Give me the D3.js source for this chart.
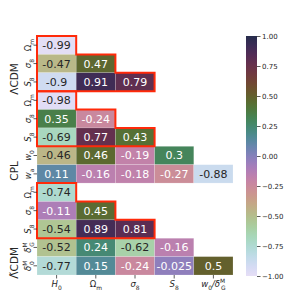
<!DOCTYPE html>
<html>
<head>
<meta charset="utf-8">
<script src="https://cdn.jsdelivr.net/npm/d3@7"></script>
<style>
  body { margin: 0; background: #fff; }
  text { font-family: "DejaVu Sans", sans-serif; }
</style>
</head>
<body>
<svg id="chart" width="299" height="298"></svg>
<script>
// column labels: [base, sub, sup]
var colLabels = [["H", "0"], ["Ω", "m"], ["σ", "8"], ["S", "8"], ["w", "0", null, "/δ", "G", "M"]];

// row labels, three model blocks
var rowLabels = [
  ["Ω", "m"], ["σ", "8"], ["S", "8"],
  ["Ω", "m"], ["σ", "8"], ["S", "8"], ["w", "0"], ["w", "a"],
  ["Ω", "m"], ["σ", "8"], ["S", "8"], ["δ", "G", "M"], ["δ", "0", "M"]
];

var groups = ["ΛCDM", "CPL", "Λ̃CDM"];
var groupLastRow = [2, 7, 12];
var boxedStart = [0, 3, 8]; // first row of the red outlined triangles

// correlation values per row (lower triangle only)
var corr = [
  [-0.99],
  [-0.47, 0.47],
  [-0.9, 0.91, 0.79],
  [-0.98],
  [0.35, -0.24],
  [-0.69, 0.77, 0.43],
  [-0.46, 0.46, -0.19, 0.3],
  [0.11, -0.16, -0.18, -0.27, -0.88],
  [-0.74],
  [-0.11, 0.45],
  [-0.54, 0.89, 0.81],
  [-0.52, 0.24, -0.62, -0.16],
  [-0.77, 0.15, -0.24, -0.025, 0.5]
];

var cbarTicks = [1, 0.75, 0.5, 0.25, 0, -0.25, -0.5, -0.75, -1];

var svg = d3.select("#chart");

// cubehelix colour map, dark at +1, light at -1
function cubehelix(t) {
  var dark = 0.18, light = 0.89, hue = 0.8;
  var x = dark + (light - dark) * t;
  var a = hue * x * (1 - x) / 2;
  var phi = (-12 + 745 * t) * Math.PI / 180;
  var c = Math.cos(phi), s = Math.sin(phi);
  var r = x + a * (-0.14861 * c + 1.78277 * s);
  var g = x + a * (-0.29227 * c - 0.90649 * s);
  var b = x + a * (1.97294 * c);
  var cl = function (v) { return Math.round(255 * Math.max(0, Math.min(1, v))); };
  return d3.rgb(cl(r), cl(g), cl(b));
}
var color = function (v) { return cubehelix((1 - v) / 2); };

function lum(c) {
  var f = function (v) { v /= 255; return v <= 0.03928 ? v / 12.92 : Math.pow((v + 0.055) / 1.055, 2.4); };
  return 0.2126 * f(c.r) + 0.7152 * f(c.g) + 0.0722 * f(c.b);
}

var x = d3.scaleBand().domain(d3.range(colLabels.length)).range([37, 233]);
var y = d3.scaleBand().domain(d3.range(rowLabels.length)).range([36, 275]);

// cells
var cells = [];
corr.forEach(function (row, i) {
  row.forEach(function (v, j) { cells.push({ i: i, j: j, v: v }); });
});

var cg = svg.append("g").selectAll("g").data(cells).enter().append("g");
cg.append("rect")
  .attr("x", d => x(d.j))
  .attr("y", d => y(d.i))
  .attr("width", x.bandwidth())
  .attr("height", y.bandwidth())
  .attr("fill", d => color(d.v))
  .attr("stroke", "rgba(255,255,255,0.35)")
  .attr("stroke-width", 0.5);
cg.append("text")
  .attr("x", d => x(d.j) + x.bandwidth() / 2)
  .attr("y", d => y(d.i) + y.bandwidth() / 2)
  .attr("dy", "0.36em")
  .attr("text-anchor", "middle")
  .attr("font-size", 11)
  .attr("fill", d => lum(color(d.v)) > 0.408 ? "#262626" : "#fff")
  .text(d => String(d.v));

// red outlines
var bw = x.bandwidth(), bh = y.bandwidth();
svg.append("g").selectAll("path").data(boxedStart).enter().append("path")
  .attr("d", function (r0) {
    var x0 = x(0), y0 = y(r0);
    return "M" + x0 + "," + y0 +
      "H" + (x0 + bw) + "V" + (y0 + bh) +
      "H" + (x0 + 2 * bw) + "V" + (y0 + 2 * bh) +
      "H" + (x0 + 3 * bw) + "V" + (y0 + 3 * bh) +
      "H" + x0 + "Z";
  })
  .attr("fill", "none")
  .attr("stroke", "#ff2a0a")
  .attr("stroke-width", 2);

function mathLabel(sel, lab, size) {
  sel.append("tspan").attr("font-style", (lab[0] === "Ω") ? "normal" : "italic").text(lab[0]);
  if (lab[2]) {
    sel.append("tspan").attr("font-size", size * 0.7).attr("dy", -size * 0.45).text(lab[2]);
    sel.append("tspan").attr("font-size", size * 0.7).attr("dx", -size * 0.5).attr("dy", size * 0.8).text(lab[1]);
    sel.append("tspan").attr("font-size", size * 0.01).attr("dy", -size * 0.35).text(" ");
  } else {
    sel.append("tspan").attr("font-size", size * 0.7).attr("dy", size * 0.3).text(lab[1]);
    sel.append("tspan").attr("font-size", size * 0.01).attr("dy", -size * 0.3).text(" ");
  }
  if (lab[3]) {
    sel.append("tspan").attr("font-style", "italic").text(lab[3]);
    sel.append("tspan").attr("font-size", size * 0.7).attr("dy", -size * 0.45).text(lab[5]);
    sel.append("tspan").attr("font-size", size * 0.7).attr("dx", -size * 0.5).attr("dy", size * 0.8).text(lab[4]);
  }
}

// y ticks and labels
var yl = svg.append("g");
rowLabels.forEach(function (lab, i) {
  var cy = y(i) + bh / 2;
  yl.append("line").attr("x1", 33.5).attr("x2", 37).attr("y1", cy).attr("y2", cy)
    .attr("stroke", "#333").attr("stroke-width", 0.8);
  var t = yl.append("text")
    .attr("transform", "translate(31," + cy + ") rotate(-90)")
    .attr("text-anchor", "middle")
    .attr("font-size", 8.5)
    .attr("fill", "#262626");
  mathLabel(t, lab, 8.5);
});

// group labels
groups.forEach(function (gname, k) {
  var cy = y(groupLastRow[k]) + bh / 2 - 3;
  svg.append("text")
    .attr("transform", "translate(18," + cy + ") rotate(-90)")
    .attr("text-anchor", "middle")
    .attr("font-size", 10.5)
    .attr("fill", "#262626")
    .text(gname);
});

// x ticks and labels
var xl = svg.append("g");
colLabels.forEach(function (lab, j) {
  var cx = x(j) + bw / 2;
  xl.append("line").attr("x1", cx).attr("x2", cx).attr("y1", 275).attr("y2", 278.5)
    .attr("stroke", "#333").attr("stroke-width", 0.8);
  var t = xl.append("text")
    .attr("x", cx).attr("y", 287)
    .attr("text-anchor", "middle")
    .attr("font-size", 8.5)
    .attr("fill", "#262626");
  mathLabel(t, lab, 8.5);
});

// colourbar
var cb = d3.scaleLinear().domain([-1, 1]).range([276, 36]);
var defs = svg.append("defs");
var grad = defs.append("linearGradient").attr("id", "cbg")
  .attr("x1", 0).attr("y1", 1).attr("x2", 0).attr("y2", 0);
grad.selectAll("stop").data(d3.range(0, 1.0001, 0.02)).enter().append("stop")
  .attr("offset", d => d)
  .attr("stop-color", d => color(-1 + 2 * d));
svg.append("rect")
  .attr("x", 246).attr("y", cb(1))
  .attr("width", 11).attr("height", cb(-1) - cb(1))
  .attr("fill", "url(#cbg)");
var cbAxis = d3.axisRight(cb).tickValues(cbarTicks).tickSize(3.5)
  .tickFormat(d => d3.format(".2f")(d).replace("-", "−"));
svg.append("g").attr("transform", "translate(257,0)").call(cbAxis)
  .call(g => g.select(".domain").remove())
  .call(g => g.selectAll("text").attr("font-size", 7).attr("fill", "#262626").attr("x", 5))
  .call(g => g.selectAll("line").attr("stroke", "#333").attr("stroke-width", 0.8));
</script>
</body>
</html>
